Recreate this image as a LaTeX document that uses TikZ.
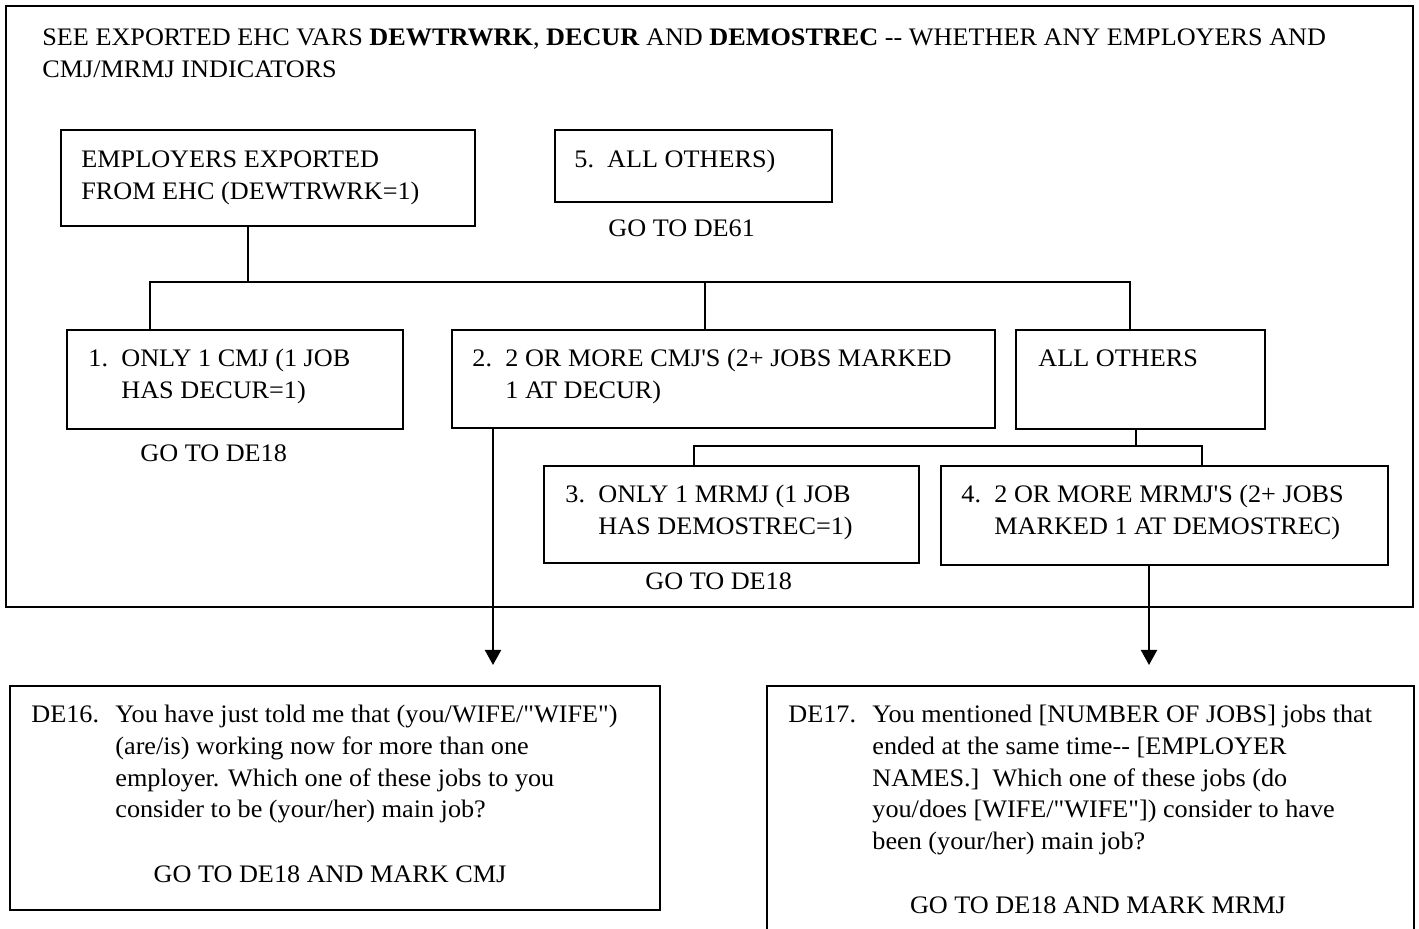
\documentclass[tikz,border=0pt]{standalone}
\usepackage{fontspec}
\setmainfont{Liberation Serif}[Ligatures=TeXOff,FakeStretch=1.04]
\usetikzlibrary{arrows.meta,fit}

\begin{document}
\begin{tikzpicture}[x=0.5pt,y=-0.5pt,>={Triangle[width=8pt,length=7.5pt]},
  frame/.style={draw,line width=1pt,inner sep=0pt},
  txt/.style={inner sep=0pt,anchor=base west},
  conn/.style={line width=1pt},
  font=\fontsize{12.6}{15.8}\selectfont]
  \useasboundingbox (0,0) rectangle (1419,929);

  % outer frame with heading
  \node[frame,fit={(6,6) (1413,607)}] (outer) {};
  \node[txt] (title) at (42,46) {\begin{tabular}[t]{@{}l@{}}SEE EXPORTED EHC VARS \textbf{DEWTRWRK}, \textbf{DECUR} AND \textbf{DEMOSTREC} -- WHETHER ANY EMPLOYERS AND\\ CMJ/MRMJ INDICATORS\end{tabular}};

  % first level
  \node[frame,fit={(61,130) (475,226)}] (emp) {};
  \node[txt] (empt) at (81,168) {\begin{tabular}[t]{@{}l@{}}EMPLOYERS EXPORTED\\ FROM EHC (DEWTRWRK=1)\end{tabular}};
  \node[frame,fit={(555,130) (832,202)}] (oth5) {};
  \node[txt] (oth5t) at (574,168) {5.\ \ ALL OTHERS)};
  \node[txt] (go61) at (608,237) {GO TO DE61};

  % second level
  \node[frame,fit={(67,330) (403,429)}] (cmj1) {};
  \node[txt] (cmj1t) at (88,367) {\begin{tabular}[t]{@{}p{16.5pt}@{}l@{}}1. & ONLY 1 CMJ (1 JOB\\ & HAS DECUR=1)\end{tabular}};
  \node[txt] (go18a) at (140,462) {GO TO DE18};
  \node[frame,fit={(452,330) (995,428)}] (cmj2) {};
  \node[txt] (cmj2t) at (472,367) {\begin{tabular}[t]{@{}p{16.5pt}@{}l@{}}2. & 2 OR MORE CMJ'S (2+ JOBS MARKED\\ & 1 AT DECUR)\end{tabular}};
  \node[frame,fit={(1016,330) (1265,429)}] (rest) {};
  \node[txt] (restt) at (1038,367) {ALL OTHERS};

  % third level
  \node[frame,fit={(544,466) (919,563)}] (mrmj1) {};
  \node[txt] (mrmj1t) at (565,503) {\begin{tabular}[t]{@{}p{16.5pt}@{}l@{}}3. & ONLY 1 MRMJ (1 JOB\\ & HAS DEMOSTREC=1)\end{tabular}};
  \node[txt] (go18b) at (645,590) {GO TO DE18};
  \node[frame,fit={(941,466) (1388,565)}] (mrmj2) {};
  \node[txt] (mrmj2t) at (961,503) {\begin{tabular}[t]{@{}p{16.5pt}@{}l@{}}4. & 2 OR MORE MRMJ'S (2+ JOBS\\ & MARKED 1 AT DEMOSTREC)\end{tabular}};

  % questions
  \node[frame,fit={(10,686) (660,910)}] (de16) {};
  \node[txt] (de16t) at (31,723) {\begin{tabular}[t]{@{}p{42pt}@{}l@{}}DE16. & You have just told me that (you/WIFE/"WIFE")\\ & (are/is) working now for more than one\\ & employer. Which one of these jobs to you\\ & consider to be (your/her) main job?\end{tabular}};
  \node[txt,anchor=base] (de16go) at (330,882) {GO TO DE18 AND MARK CMJ};
  \node[frame,fit={(767,686) (1414,950)}] (de17) {};
  \node[txt] (de17t) at (788,723) {\begin{tabular}[t]{@{}p{42pt}@{}l@{}}DE17. & You mentioned [NUMBER OF JOBS] jobs that\\ & ended at the same time-- [EMPLOYER\\ & NAMES.]\ \ Which one of these jobs (do\\ & you/does [WIFE/"WIFE"]) consider to have\\ & been (your/her) main job?\end{tabular}};
  \node[txt,anchor=base] (de17go) at (1098,913) {GO TO DE18 AND MARK MRMJ};

  % connectors
  \coordinate (j0) at (248,282);
  \coordinate (j1) at (150,282);
  \coordinate (j2) at (705,282);
  \coordinate (j3) at (1130,282);
  \coordinate (k0) at (1136,446);
  \coordinate (k1) at (694,446);
  \coordinate (k2) at (1202,446);
  \coordinate (a1) at (493,665);
  \coordinate (a2) at (1149,665);
  \draw[conn] (j0 |- emp.south) -- (j0);
  \draw[conn] (j1 |- cmj1.north) -- (j1) -- (j3) -- (j3 |- rest.north);
  \draw[conn] (j2) -- (j2 |- cmj2.north);
  \draw[conn] (k0 |- rest.south) -- (k0);
  \draw[conn] (k1 |- mrmj1.north) -- (k1) -- (k2) -- (k2 |- mrmj2.north);
  \draw[conn,->] (a1 |- cmj2.south) -- (a1);
  \draw[conn,->] (a2 |- mrmj2.south) -- (a2);
\end{tikzpicture}
\end{document}
